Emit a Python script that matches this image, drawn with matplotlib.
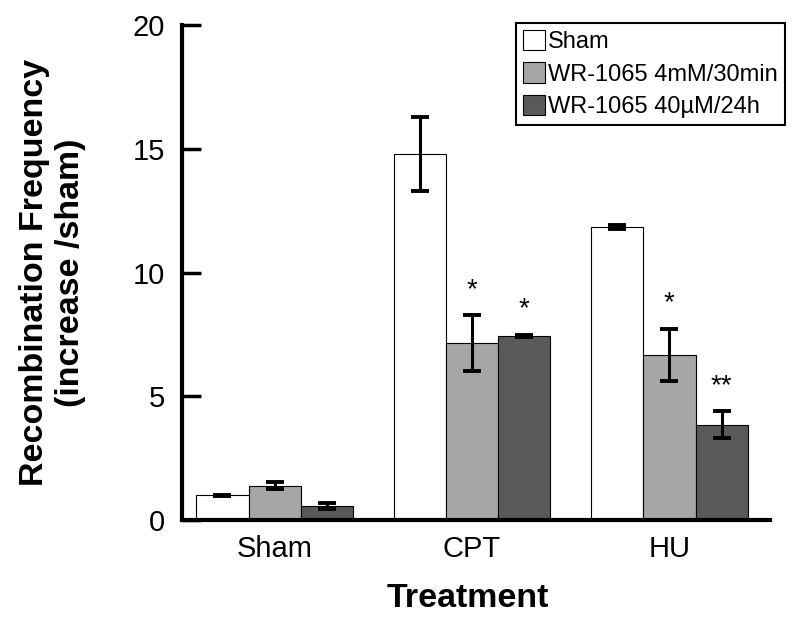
import matplotlib
matplotlib.use('Agg')
import matplotlib.pyplot as plt
import numpy as np

matplotlib.rcParams['font.family'] = ['Liberation Sans', 'DejaVu Sans']

groups = ['Sham', 'CPT', 'HU']
series = ['Sham', 'WR-1065 4mM/30min', 'WR-1065 40µM/24h']
means = [
    [1.0, 14.8, 11.83],   # Sham
    [1.4, 7.15, 6.67],    # WR-1065 4mM/30min
    [0.57, 7.44, 3.86],   # WR-1065 40uM/24h
]
errs = [
    [0.03, 1.5, 0.08],
    [0.15, 1.12, 1.05],
    [0.12, 0.05, 0.53],
]
stars = [
    ['', '', ''],
    ['', '*', '*'],
    ['', '*', '**'],
]
colors = ['white', '#a6a6a6', '#595959']

fig = plt.figure(figsize=(8, 6.23), dpi=100)
ax = fig.add_axes([0.2275, 0.165, 0.735, 0.795])

x = np.arange(len(groups))
w = 0.265
for i in range(3):
    pos = x + (i - 1) * w
    ax.bar(pos, means[i], width=w, color=colors[i], edgecolor='black',
           linewidth=0.8, label=series[i], zorder=2)
    ax.errorbar(pos, means[i], yerr=errs[i], fmt='none', ecolor='black',
                elinewidth=2.2, capsize=6.3, capthick=2.8, zorder=3)
    for j in range(3):
        if stars[i][j]:
            ax.text(pos[j], means[i][j] + errs[i][j] + 0.75, stars[i][j],
                    ha='center', va='baseline', fontsize=20)

ax.set_xlim(-0.47, 2.51)
ax.set_ylim(0, 20)
ax.set_yticks([0, 5, 10, 15, 20])
ax.set_xticks(x)
ax.set_xticklabels(groups)
ax.tick_params(axis='y', direction='in', length=14, width=2.5, labelsize=21, pad=12)
ax.tick_params(axis='x', length=0, labelsize=21, pad=11)
for s in ['top', 'right']:
    ax.spines[s].set_visible(False)
for s in ['left', 'bottom']:
    ax.spines[s].set_linewidth(3)

ax.set_ylabel('Recombination Frequency\n(increase /sham)', fontsize=24.5,
              fontweight='bold', labelpad=34, linespacing=1.2)
ax.set_xlabel('Treatment', fontsize=24.5, fontweight='bold', labelpad=14, x=0.486)

leg = ax.legend(loc='upper right', bbox_to_anchor=(785 / 800, 1 - 23 / 623),
                bbox_transform=fig.transFigure, borderaxespad=0, fontsize=17,
                fancybox=False, edgecolor='black', framealpha=1,
                handlelength=0.93, handleheight=0.93, handletextpad=0.13,
                labelspacing=0.39, borderpad=0.3)
leg.get_frame().set_linewidth(1.5)

fig.savefig('out.png', dpi=100)
